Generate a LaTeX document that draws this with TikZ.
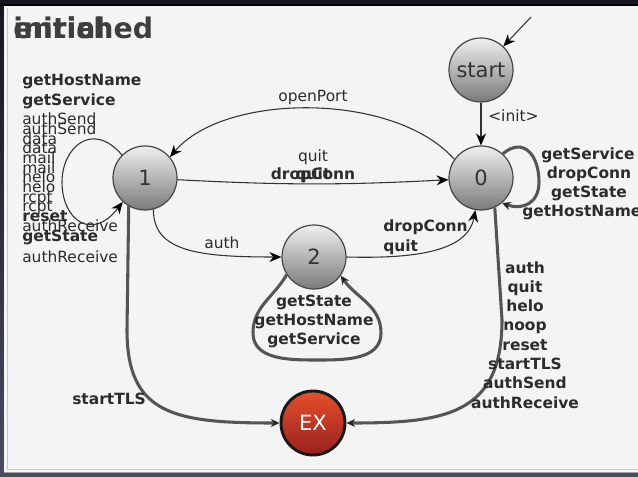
\documentclass[tikz,border=0pt]{standalone}
\usepackage{fontspec}
\setmainfont{DejaVu Sans}
\usetikzlibrary{arrows.meta}

\definecolor{outerTop}{HTML}{16161C}
\definecolor{outerBot}{HTML}{4A4A62}
\definecolor{panel}{HTML}{F4F4F4}
\definecolor{panelLine}{HTML}{C9C9C9}
\definecolor{stateTop}{HTML}{EFEFEF}
\definecolor{stateBot}{HTML}{7A7A7A}
\definecolor{stateEdge}{HTML}{454545}
\definecolor{stateText}{HTML}{333333}
\definecolor{exTop}{HTML}{E6502B}
\definecolor{exBot}{HTML}{982020}
\definecolor{thinEdge}{HTML}{333333}
\definecolor{thickEdge}{HTML}{555555}
\definecolor{labelText}{HTML}{2C2C2C}
\definecolor{titleText}{HTML}{3E3E3E}

\tikzset{
  state/.style={circle, draw=stateEdge, line width=0.9pt, minimum size=48pt,
    inner sep=0pt, top color=stateTop, bottom color=stateBot, text=stateText,
    font=\fontsize{15.75pt}{18pt}\selectfont},
  exitstate/.style={state, draw=black!90, line width=2.2pt, top color=exTop,
    bottom color=exBot, text=white},
  thinedge/.style={draw=thinEdge, line width=0.8pt,
    -{Stealth[length=9pt,width=7.5pt,color=black]}},
  thickedge/.style={draw=thickEdge, line width=2.3pt,
    -{Stealth[length=6.5pt,width=6pt,color=black!85]}},
  lbl/.style={inner sep=0pt, text=labelText,
    font=\fontsize{11.6pt}{14pt}\selectfont},
  blbl/.style={inner sep=0pt, text=labelText,
    font=\fontsize{11.6pt}{14pt}\selectfont\bfseries},
  titletext/.style={inner sep=0pt, text=titleText, anchor=base west,
    font=\fontsize{21.3pt}{26pt}\selectfont\bfseries}
}

\begin{document}
\begin{tikzpicture}[x=0.75pt,y=-0.75pt]
  % window background and panel
  \useasboundingbox (0,0) rectangle (638,477);
  \shade[top color=outerTop, bottom color=outerBot] (0,0) rectangle (638,477);
  \fill[panel] (4,5) rectangle (638,473);
  \draw[black, line width=1.5pt] (0,5) -- (638,5);
  \draw[panelLine, line width=0.8pt] (7.5,8) -- (7.5,469.5) -- (638,469.5);
  \draw[panelLine!80!black, line width=0.8pt] (4,472.5) -- (638,472.5);

  % overlapping state captions
  \node[titletext] (capA) at (13,39) {initial};
  \node[titletext] (capB) at (13,39) {enriched};

  % states
  \node[state] (start) at (481,70) {start};
  \node[state] (n0) at (481,178) {0};
  \node[state] (n1) at (145,178) {1};
  \node[state] (n2) at (314,257) {2};
  \node[exitstate] (ex) at (313,423) {EX};
  \coordinate (entry) at (531,17);

  % transitions
  \draw[thinedge] (entry) -- (start);
  \draw[thinedge] (start) -- (n0);
  \draw[thinedge] (n0.145) .. controls (395,92) and (225,92) .. (n1.40);
  \draw[thinedge] (n1) to[bend right=3] (n0);
  \draw[thinedge] (n1.-75) .. controls (153,252) and (200,257) .. (n2.west);
  \draw[thinedge] (n2.east) .. controls (420,259) and (468,250) .. (n0.-100);
  \draw[thinedge] (n1.135) .. controls (92,120) and (62,148) .. (62,182)
    .. controls (62,220) and (92,242) .. (n1.-133);
  \draw[thickedge] (n0.48) to[out=40,in=90,looseness=1.5] (539,182)
    to[out=-90,in=-20,looseness=1.3] (n0.-50);
  \draw[thickedge] (n2.213) to[out=240,in=90] (253,333) to[out=-90,in=180] (316,360)
    to[out=0,in=-90] (381,333) to[out=90,in=305] (n2.-35);
  \draw[thickedge] (n1.-120) -- (127,330) .. controls (127,415) and (175,423) .. (ex.west);
  \draw[thickedge] (n0.-65) -- (502,320) .. controls (502,415) and (445,423) .. (ex.east);

  % labels
  \node[lbl, anchor=base west] (linit) at (488,122) {<init>};
  \node[lbl, anchor=base] (lopen) at (313,102) {openPort};
  \node[lbl, anchor=base] (lquitA) at (313,162) {quit};
  \node[blbl, anchor=base] (ldropA) at (313,180) {dropConn};
  \node[blbl, anchor=base] (lquitB) at (313,180) {quit};
  \node[lbl, anchor=base west] (lauth) at (204,248) {auth};
  \node[blbl, anchor=base west] (ldropB) at (383,232) {dropConn};
  \node[blbl, anchor=base west] (lquitC) at (383,251) {quit};
  \node[blbl, anchor=base west] (ltls) at (72,404) {startTLS};

  % self-loop labels of state 0
  \node[blbl, anchor=base] (z1) at (588,160) {getService};
  \node[blbl, anchor=base] (z2) at (589,179) {dropConn};
  \node[blbl, anchor=base] (z3) at (589,198) {getState};
  \node[blbl, anchor=base west] (z4) at (522,217) {getHostName};

  % self-loop labels of state 2
  \node[blbl, anchor=base] (t1) at (314,306) {getState};
  \node[blbl, anchor=base] (t2) at (314,325) {getHostName};
  \node[blbl, anchor=base] (t3) at (314,344) {getService};

  % transitions from 0 to EX
  \foreach \w [count=\i] in {auth,quit,helo,noop,reset,startTLS,authSend,authReceive}
    \node[blbl, anchor=base] (x\i) at (525,{273+19.3*(\i-1)}) {\w};

  % self-loop labels of state 1
  \node[blbl, anchor=base west] (o1) at (22,86) {getHostName};
  \node[blbl, anchor=base west] (o2) at (22,106) {getService};
  \foreach \w/\y [count=\i] in {authSend/125,authSend/135,data/144.5,data/154,
      mail/164,mail/173.5,helo/183,helo/193,rcpt/202.5,rcpt/212,authReceive/232,authReceive/262}
    \node[lbl, anchor=base west] (r\i) at (22,\y) {\w};
  \node[blbl, anchor=base west] (o3) at (22,222) {reset};
  \node[blbl, anchor=base west] (o4) at (22,242) {getState};
\end{tikzpicture}
\end{document}
